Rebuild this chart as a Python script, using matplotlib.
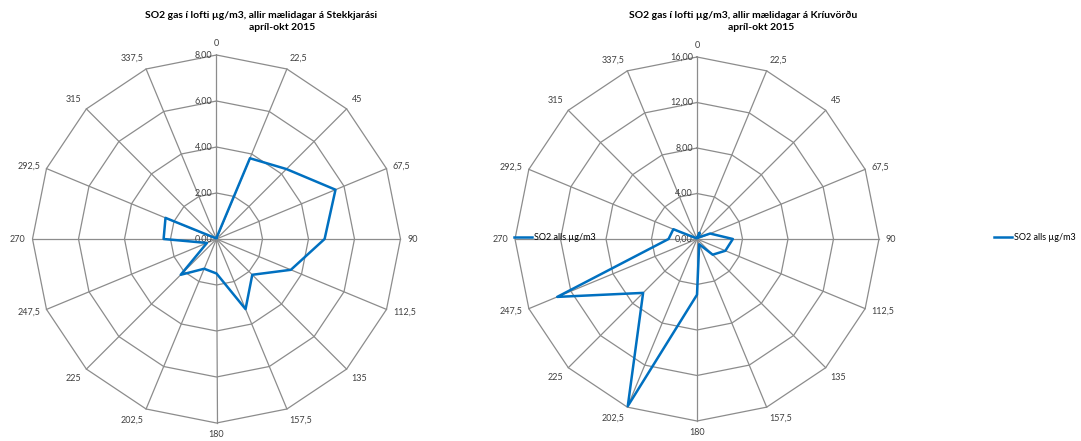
import numpy as np
import matplotlib
matplotlib.use("Agg")
import matplotlib.pyplot as plt

plt.rcParams['font.family'] = ['Lato', 'DejaVu Sans']

# wind directions (degrees) and mean SO2 per direction
directions = [0, 22.5, 45, 67.5, 90, 112.5, 135, 157.5,
              180, 202.5, 225, 247.5, 270, 292.5, 315, 337.5]
dir_labels = ['0', '22,5', '45', '67,5', '90', '112,5', '135', '157,5',
              '180', '202,5', '225', '247,5', '270', '292,5', '315', '337,5']

stekk = [0.05, 3.8, 4.3, 5.6, 4.7, 3.5, 2.2, 3.3,
         1.5, 1.4, 2.2, 0.45, 2.3, 2.4, 0.05, 0.05]
kriu = [0.1, 0.6, 0.2, 1.25, 3.15, 2.7, 1.95, 0.5,
        4.9, 15.9, 6.7, 13.3, 2.5, 2.25, 0.1, 0.1]

stekk_rings = [0, 2, 4, 6, 8]
kriu_rings = [0, 4, 8, 12, 16]

title_l1 = ['SO2 gas í lofti µg/m3, allir mælidagar á Stekkjarási',
            'SO2 gas í lofti µg/m3, allir mælidagar á Kríuvörðu']
title_l2 = 'apríl-okt 2015'
series_name = 'SO2 alls µg/m3'

W, H = 1081, 441
fig = plt.figure(figsize=(W / 100, H / 100), dpi=100)

grid_col = '#8c8c8c'
line_col = '#0070C0'


def radar(cx, cy, rad, values, rings, legend_x, t1_x, t2_x, t1):
    half = 215
    ax = fig.add_axes([(cx - half) / W, (H - cy - half) / H, 2 * half / W, 2 * half / H])
    rmax = rings[-1]
    lim = half / rad * rmax
    ax.set_xlim(-lim, lim)
    ax.set_ylim(-lim, lim)
    ax.axis('off')

    th = np.deg2rad(np.array(directions))
    thc = np.append(th, th[0])
    # polygon grid rings
    for r in rings[1:]:
        ax.plot(r * np.sin(thc), r * np.cos(thc), color=grid_col, lw=0.9, zorder=1)
    # spokes
    for t in th:
        ax.plot([0, rmax * np.sin(t)], [0, rmax * np.cos(t)], color=grid_col, lw=0.9, zorder=1)
    # ring labels
    for r in rings:
        ax.annotate(f'{r:.2f}'.replace('.', ','), (0, r), xytext=(-3, 0),
                    textcoords='offset points', ha='right', va='center', fontsize=6.5,
                    color='#404040', zorder=2)
    # direction labels
    for t, lab in zip(th, dir_labels):
        s, c = np.sin(t), np.cos(t)
        ha = 'left' if s > 0.1 else ('right' if s < -0.1 else 'center')
        va = 'bottom' if c > 0.5 else ('top' if c < -0.5 else 'center')
        ax.annotate(lab, (rmax * s, rmax * c), xytext=(5 * s, 5 * c),
                    textcoords='offset points', ha=ha, va=va, fontsize=6.5,
                    color='#404040')
    v = np.array(values)
    vc = np.append(v, v[0])
    ln, = ax.plot(vc * np.sin(thc), vc * np.cos(thc), color=line_col, lw=1.8,
                  zorder=3, label=series_name)

    fig.legend(handles=[ln], loc='center left', bbox_to_anchor=(legend_x / W, 1 - 238 / H),
               frameon=False, fontsize=6.5, handlelength=2.0, handletextpad=0.2,
               borderpad=0, borderaxespad=0)
    fig.text(t1_x / W, 1 - 15 / H, t1, ha='center', va='center', fontsize=7.5,
             fontweight='bold', color='#000000')
    fig.text(t2_x / W, 1 - 28 / H, title_l2, ha='center', va='center', fontsize=7.5,
             fontweight='bold', color='#000000')


radar(216.5, 239, 184, stekk, stekk_rings, 514, 261, 282, title_l1[0])
radar(697, 239, 182, kriu, kriu_rings, 994, 743, 761, title_l1[1])

fig.savefig('out.png', dpi=100)
